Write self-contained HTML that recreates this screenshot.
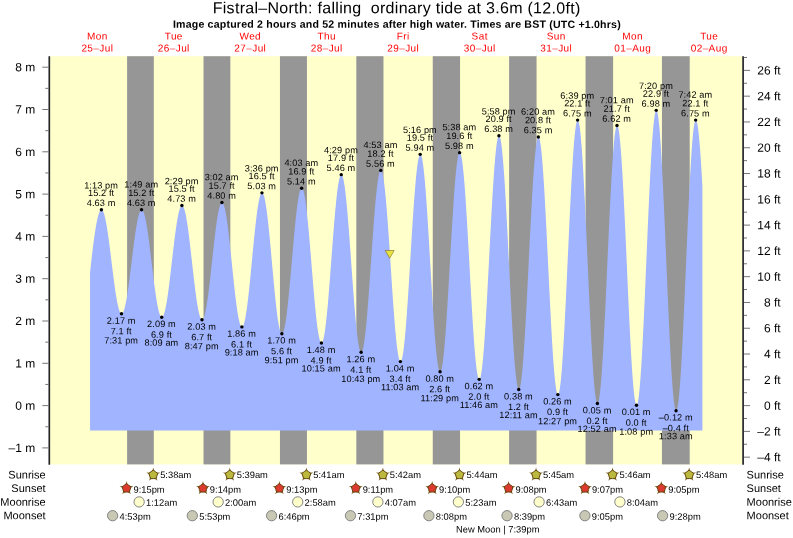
<!DOCTYPE html>
<html lang="en"><head><meta charset="utf-8"><title>Fistral-North tide times</title>
<style>html,body{margin:0;padding:0;background:#fff;overflow:hidden}svg{display:block}text{font-family:"Liberation Sans",sans-serif;fill:#000}
.ttl{font-size:16px;letter-spacing:0.29px}
.sub{font-size:10.6px;font-weight:bold;letter-spacing:0.19px}
.day{font-size:10px;fill:#ff0000;letter-spacing:0.4px}
.ax{font-size:12px;letter-spacing:0px}
.lb{font-size:9.2px;letter-spacing:0.1px}
.ev{font-size:9.35px;letter-spacing:0px}
.row{font-size:11px;letter-spacing:0px}
</style></head><body>
<svg width="793" height="538" viewBox="0 0 793 538">
<rect x="0" y="0" width="793" height="538" fill="#ffffff"/>
<rect x="50.1" y="56.2" width="691.9" height="408.2" fill="#ffffcc"/>
<rect x="127.10" y="56.2" width="26.71" height="408.2" fill="#969696"/>
<rect x="203.52" y="56.2" width="26.82" height="408.2" fill="#969696"/>
<rect x="279.95" y="56.2" width="26.98" height="408.2" fill="#969696"/>
<rect x="356.32" y="56.2" width="27.14" height="408.2" fill="#969696"/>
<rect x="432.75" y="56.2" width="27.30" height="408.2" fill="#969696"/>
<rect x="509.12" y="56.2" width="27.46" height="408.2" fill="#969696"/>
<rect x="585.55" y="56.2" width="27.56" height="408.2" fill="#969696"/>
<rect x="661.93" y="56.2" width="27.78" height="408.2" fill="#969696"/>
<path d="M90.05 430.50 L90.05 272.48 L90.30 270.19 L90.55 267.92 L90.80 265.67 L91.05 263.43 L91.30 261.22 L91.55 259.03 L91.80 256.87 L92.05 254.74 L92.30 252.63 L92.55 250.56 L92.80 248.52 L93.05 246.52 L93.30 244.55 L93.55 242.62 L93.80 240.73 L94.05 238.89 L94.30 237.08 L94.55 235.33 L94.80 233.62 L95.05 231.96 L95.30 230.35 L95.55 228.79 L95.80 227.28 L96.05 225.83 L96.30 224.44 L96.55 223.10 L96.80 221.82 L97.05 220.60 L97.30 219.44 L97.55 218.34 L97.80 217.30 L98.05 216.33 L98.30 215.42 L98.55 214.58 L98.80 213.80 L99.05 213.09 L99.30 212.44 L99.55 211.87 L99.80 211.36 L100.05 210.92 L100.30 210.55 L100.55 210.25 L100.80 210.02 L101.05 209.86 L101.30 209.77 L101.55 209.75 L101.80 209.81 L102.05 209.95 L102.30 210.16 L102.55 210.46 L102.80 210.83 L103.05 211.28 L103.30 211.81 L103.55 212.42 L103.80 213.10 L104.05 213.86 L104.30 214.68 L104.55 215.59 L104.80 216.56 L105.05 217.60 L105.30 218.71 L105.55 219.88 L105.80 221.12 L106.05 222.42 L106.30 223.78 L106.55 225.20 L106.80 226.68 L107.05 228.21 L107.30 229.79 L107.55 231.42 L107.80 233.09 L108.05 234.81 L108.30 236.57 L108.55 238.37 L108.80 240.21 L109.05 242.08 L109.30 243.98 L109.55 245.90 L109.80 247.85 L110.05 249.82 L110.30 251.81 L110.55 253.82 L110.80 255.84 L111.05 257.86 L111.30 259.89 L111.55 261.93 L111.80 263.96 L112.05 266.00 L112.30 268.02 L112.55 270.04 L112.80 272.04 L113.05 274.03 L113.30 276.00 L113.55 277.94 L113.80 279.87 L114.05 281.76 L114.30 283.62 L114.55 285.45 L114.80 287.25 L115.05 289.00 L115.30 290.72 L115.55 292.39 L115.80 294.01 L116.05 295.58 L116.30 297.10 L116.55 298.57 L116.80 299.98 L117.05 301.33 L117.30 302.63 L117.55 303.86 L117.80 305.02 L118.05 306.12 L118.30 307.15 L118.55 308.11 L118.80 309.00 L119.05 309.82 L119.30 310.57 L119.55 311.24 L119.80 311.83 L120.05 312.35 L120.30 312.79 L120.55 313.15 L120.81 313.43 L121.06 313.64 L121.31 313.76 L121.56 313.81 L121.81 313.77 L122.06 313.66 L122.31 313.47 L122.56 313.20 L122.81 312.84 L123.06 312.42 L123.31 311.91 L123.56 311.33 L123.81 310.67 L124.06 309.93 L124.31 309.12 L124.56 308.24 L124.81 307.29 L125.06 306.27 L125.31 305.18 L125.56 304.03 L125.81 302.81 L126.06 301.52 L126.31 300.18 L126.56 298.78 L126.81 297.32 L127.06 295.80 L127.31 294.24 L127.56 292.62 L127.81 290.96 L128.06 289.25 L128.31 287.50 L128.56 285.72 L128.81 283.89 L129.06 282.03 L129.31 280.14 L129.56 278.22 L129.81 276.28 L130.06 274.31 L130.31 272.33 L130.56 270.33 L130.81 268.31 L131.06 266.29 L131.31 264.26 L131.56 262.22 L131.81 260.19 L132.06 258.15 L132.31 256.13 L132.56 254.11 L132.81 252.10 L133.06 250.11 L133.31 248.13 L133.56 246.18 L133.81 244.25 L134.06 242.35 L134.31 240.47 L134.56 238.63 L134.81 236.83 L135.06 235.06 L135.31 233.34 L135.56 231.65 L135.81 230.02 L136.06 228.43 L136.31 226.89 L136.56 225.41 L136.81 223.98 L137.06 222.61 L137.31 221.30 L137.56 220.06 L137.81 218.87 L138.06 217.75 L138.31 216.70 L138.56 215.72 L138.81 214.81 L139.06 213.97 L139.31 213.20 L139.56 212.51 L139.81 211.90 L140.06 211.36 L140.31 210.89 L140.56 210.51 L140.81 210.20 L141.06 209.97 L141.31 209.82 L141.56 209.76 L141.81 209.77 L142.06 209.86 L142.31 210.03 L142.56 210.29 L142.81 210.62 L143.06 211.04 L143.31 211.53 L143.56 212.11 L143.81 212.76 L144.06 213.49 L144.31 214.29 L144.56 215.17 L144.81 216.12 L145.06 217.14 L145.31 218.24 L145.56 219.40 L145.81 220.63 L146.06 221.92 L146.31 223.28 L146.56 224.69 L146.81 226.17 L147.06 227.70 L147.31 229.29 L147.56 230.93 L147.81 232.61 L148.06 234.35 L148.31 236.13 L148.56 237.95 L148.81 239.81 L149.06 241.70 L149.31 243.63 L149.56 245.59 L149.81 247.57 L150.06 249.58 L150.31 251.61 L150.56 253.66 L150.81 255.72 L151.06 257.79 L151.31 259.88 L151.56 261.97 L151.81 264.06 L152.06 266.15 L152.31 268.23 L152.56 270.31 L152.81 272.38 L153.06 274.43 L153.31 276.47 L153.56 278.49 L153.81 280.49 L154.06 282.46 L154.31 284.40 L154.56 286.31 L154.81 288.18 L155.06 290.02 L155.31 291.82 L155.56 293.57 L155.81 295.28 L156.06 296.94 L156.31 298.55 L156.56 300.11 L156.81 301.61 L157.06 303.05 L157.31 304.43 L157.56 305.76 L157.81 307.01 L158.06 308.20 L158.31 309.33 L158.56 310.38 L158.81 311.37 L159.06 312.28 L159.31 313.11 L159.56 313.87 L159.81 314.56 L160.06 315.17 L160.31 315.70 L160.56 316.15 L160.81 316.52 L161.06 316.81 L161.31 317.02 L161.56 317.15 L161.81 317.19 L162.06 317.16 L162.31 317.04 L162.56 316.83 L162.81 316.54 L163.06 316.17 L163.31 315.72 L163.56 315.18 L163.81 314.56 L164.06 313.86 L164.31 313.08 L164.56 312.22 L164.81 311.29 L165.06 310.28 L165.31 309.19 L165.56 308.04 L165.81 306.81 L166.06 305.51 L166.31 304.15 L166.56 302.72 L166.81 301.23 L167.06 299.68 L167.31 298.07 L167.56 296.41 L167.81 294.69 L168.06 292.92 L168.31 291.11 L168.56 289.24 L168.81 287.34 L169.06 285.40 L169.31 283.42 L169.56 281.41 L169.81 279.36 L170.06 277.29 L170.31 275.20 L170.56 273.08 L170.81 270.95 L171.06 268.80 L171.31 266.64 L171.56 264.48 L171.81 262.31 L172.06 260.13 L172.31 257.96 L172.56 255.79 L172.81 253.64 L173.06 251.49 L173.31 249.36 L173.56 247.25 L173.81 245.16 L174.06 243.09 L174.31 241.05 L174.56 239.04 L174.81 237.07 L175.06 235.13 L175.31 233.23 L175.56 231.37 L175.81 229.56 L176.06 227.80 L176.31 226.09 L176.56 224.43 L176.81 222.83 L177.06 221.29 L177.31 219.81 L177.56 218.39 L177.81 217.03 L178.06 215.74 L178.31 214.52 L178.56 213.38 L178.81 212.30 L179.06 211.30 L179.31 210.38 L179.56 209.53 L179.81 208.76 L180.06 208.07 L180.31 207.46 L180.56 206.93 L180.81 206.49 L181.06 206.13 L181.31 205.85 L181.56 205.66 L181.81 205.55 L182.07 205.52 L182.32 205.58 L182.57 205.73 L182.82 205.97 L183.07 206.29 L183.32 206.70 L183.57 207.20 L183.82 207.78 L184.07 208.44 L184.32 209.19 L184.57 210.01 L184.82 210.92 L185.07 211.91 L185.32 212.98 L185.57 214.12 L185.82 215.33 L186.07 216.62 L186.32 217.98 L186.57 219.41 L186.82 220.90 L187.07 222.46 L187.32 224.08 L187.57 225.75 L187.82 227.49 L188.07 229.28 L188.32 231.11 L188.57 233.00 L188.82 234.93 L189.07 236.91 L189.32 238.92 L189.57 240.97 L189.82 243.06 L190.07 245.17 L190.32 247.31 L190.57 249.47 L190.82 251.66 L191.07 253.86 L191.32 256.07 L191.57 258.30 L191.82 260.53 L192.07 262.76 L192.32 264.99 L192.57 267.22 L192.82 269.45 L193.07 271.66 L193.32 273.86 L193.57 276.04 L193.82 278.20 L194.07 280.34 L194.32 282.45 L194.57 284.53 L194.82 286.57 L195.07 288.58 L195.32 290.55 L195.57 292.48 L195.82 294.36 L196.07 296.20 L196.32 297.98 L196.57 299.70 L196.82 301.37 L197.07 302.99 L197.32 304.54 L197.57 306.02 L197.82 307.44 L198.07 308.79 L198.32 310.07 L198.57 311.28 L198.82 312.41 L199.07 313.46 L199.32 314.44 L199.57 315.34 L199.82 316.16 L200.07 316.90 L200.32 317.55 L200.57 318.12 L200.82 318.60 L201.07 319.00 L201.32 319.32 L201.57 319.54 L201.82 319.68 L202.07 319.73 L202.32 319.69 L202.57 319.56 L202.82 319.34 L203.07 319.03 L203.32 318.63 L203.57 318.14 L203.82 317.57 L204.07 316.90 L204.32 316.15 L204.57 315.31 L204.82 314.39 L205.07 313.38 L205.32 312.29 L205.57 311.13 L205.82 309.88 L206.07 308.56 L206.32 307.17 L206.57 305.70 L206.82 304.17 L207.07 302.57 L207.32 300.90 L207.57 299.18 L207.82 297.39 L208.07 295.55 L208.32 293.65 L208.57 291.70 L208.82 289.71 L209.07 287.67 L209.32 285.59 L209.57 283.47 L209.82 281.32 L210.07 279.13 L210.32 276.92 L210.57 274.68 L210.82 272.42 L211.07 270.15 L211.32 267.86 L211.57 265.56 L211.82 263.25 L212.07 260.94 L212.32 258.63 L212.57 256.33 L212.82 254.03 L213.07 251.74 L213.32 249.47 L213.57 247.21 L213.82 244.98 L214.07 242.77 L214.32 240.59 L214.57 238.45 L214.82 236.33 L215.07 234.26 L215.32 232.23 L215.57 230.24 L215.82 228.30 L216.07 226.42 L216.32 224.58 L216.57 222.81 L216.82 221.09 L217.07 219.43 L217.32 217.85 L217.57 216.32 L217.82 214.87 L218.07 213.49 L218.32 212.18 L218.57 210.95 L218.82 209.80 L219.07 208.73 L219.32 207.74 L219.57 206.83 L219.82 206.01 L220.07 205.27 L220.32 204.62 L220.57 204.05 L220.82 203.58 L221.07 203.20 L221.32 202.90 L221.57 202.70 L221.82 202.58 L222.07 202.56 L222.32 202.64 L222.57 202.81 L222.82 203.07 L223.07 203.43 L223.32 203.89 L223.57 204.44 L223.82 205.08 L224.07 205.81 L224.32 206.64 L224.57 207.56 L224.82 208.56 L225.07 209.65 L225.32 210.83 L225.57 212.09 L225.82 213.43 L226.07 214.85 L226.32 216.35 L226.57 217.92 L226.82 219.57 L227.07 221.29 L227.32 223.07 L227.57 224.91 L227.82 226.82 L228.07 228.79 L228.32 230.81 L228.57 232.89 L228.82 235.01 L229.07 237.19 L229.32 239.40 L229.57 241.65 L229.82 243.94 L230.07 246.26 L230.32 248.61 L230.57 250.98 L230.82 253.38 L231.07 255.79 L231.32 258.22 L231.57 260.66 L231.82 263.10 L232.07 265.54 L232.32 267.99 L232.57 270.43 L232.82 272.86 L233.07 275.28 L233.32 277.68 L233.57 280.06 L233.82 282.42 L234.07 284.75 L234.32 287.05 L234.57 289.31 L234.82 291.54 L235.07 293.73 L235.32 295.87 L235.57 297.96 L235.82 300.00 L236.07 301.99 L236.32 303.92 L236.57 305.79 L236.82 307.59 L237.07 309.33 L237.32 311.00 L237.57 312.60 L237.82 314.12 L238.07 315.57 L238.32 316.94 L238.57 318.23 L238.82 319.43 L239.07 320.56 L239.32 321.59 L239.57 322.54 L239.82 323.39 L240.07 324.16 L240.32 324.84 L240.57 325.42 L240.82 325.90 L241.07 326.30 L241.32 326.60 L241.57 326.80 L241.82 326.90 L242.07 326.91 L242.32 326.82 L242.57 326.63 L242.82 326.33 L243.07 325.93 L243.33 325.43 L243.58 324.83 L243.83 324.13 L244.08 323.34 L244.33 322.44 L244.58 321.45 L244.83 320.37 L245.08 319.19 L245.33 317.92 L245.58 316.57 L245.83 315.12 L246.08 313.59 L246.33 311.98 L246.58 310.29 L246.83 308.52 L247.08 306.68 L247.33 304.77 L247.58 302.79 L247.83 300.74 L248.08 298.63 L248.33 296.46 L248.58 294.23 L248.83 291.95 L249.08 289.63 L249.33 287.25 L249.58 284.84 L249.83 282.39 L250.08 279.90 L250.33 277.38 L250.58 274.83 L250.83 272.27 L251.08 269.68 L251.33 267.08 L251.58 264.46 L251.83 261.84 L252.08 259.22 L252.33 256.60 L252.58 253.98 L252.83 251.37 L253.08 248.78 L253.33 246.20 L253.58 243.64 L253.83 241.11 L254.08 238.61 L254.33 236.14 L254.58 233.70 L254.83 231.31 L255.08 228.96 L255.33 226.65 L255.58 224.40 L255.83 222.20 L256.08 220.06 L256.33 217.98 L256.58 215.97 L256.83 214.02 L257.08 212.14 L257.33 210.34 L257.58 208.61 L257.83 206.96 L258.08 205.39 L258.33 203.90 L258.58 202.50 L258.83 201.19 L259.08 199.96 L259.33 198.83 L259.58 197.79 L259.83 196.85 L260.08 196.01 L260.33 195.26 L260.58 194.61 L260.83 194.06 L261.08 193.61 L261.33 193.26 L261.58 193.02 L261.83 192.87 L262.08 192.83 L262.33 192.90 L262.58 193.07 L262.83 193.36 L263.08 193.75 L263.33 194.25 L263.58 194.86 L263.83 195.58 L264.08 196.40 L264.33 197.32 L264.58 198.35 L264.83 199.48 L265.08 200.71 L265.33 202.03 L265.58 203.45 L265.83 204.96 L266.08 206.57 L266.33 208.26 L266.58 210.04 L266.83 211.90 L267.08 213.84 L267.33 215.85 L267.58 217.94 L267.83 220.10 L268.08 222.33 L268.33 224.62 L268.58 226.98 L268.83 229.38 L269.08 231.85 L269.33 234.36 L269.58 236.91 L269.83 239.51 L270.08 242.14 L270.33 244.80 L270.58 247.50 L270.83 250.22 L271.08 252.96 L271.33 255.71 L271.58 258.48 L271.83 261.25 L272.08 264.03 L272.33 266.81 L272.58 269.58 L272.83 272.34 L273.08 275.09 L273.33 277.81 L273.58 280.52 L273.83 283.20 L274.08 285.85 L274.33 288.46 L274.58 291.03 L274.83 293.56 L275.08 296.05 L275.33 298.48 L275.58 300.86 L275.83 303.18 L276.08 305.43 L276.33 307.62 L276.58 309.75 L276.83 311.80 L277.08 313.77 L277.33 315.67 L277.58 317.48 L277.83 319.21 L278.08 320.86 L278.33 322.41 L278.58 323.87 L278.83 325.24 L279.08 326.51 L279.33 327.68 L279.58 328.75 L279.83 329.72 L280.08 330.59 L280.33 331.35 L280.58 332.01 L280.83 332.56 L281.08 333.00 L281.33 333.33 L281.58 333.56 L281.83 333.67 L282.08 333.68 L282.33 333.57 L282.58 333.34 L282.83 333.01 L283.08 332.55 L283.33 331.99 L283.58 331.31 L283.83 330.52 L284.08 329.62 L284.33 328.61 L284.58 327.50 L284.83 326.28 L285.08 324.96 L285.33 323.53 L285.58 322.01 L285.83 320.39 L286.08 318.67 L286.33 316.87 L286.58 314.98 L286.83 313.00 L287.08 310.94 L287.33 308.80 L287.58 306.58 L287.83 304.29 L288.08 301.94 L288.33 299.51 L288.58 297.03 L288.83 294.49 L289.08 291.90 L289.33 289.26 L289.58 286.57 L289.83 283.85 L290.08 281.08 L290.33 278.29 L290.58 275.47 L290.83 272.62 L291.08 269.76 L291.33 266.88 L291.58 263.99 L291.83 261.10 L292.08 258.21 L292.33 255.32 L292.58 252.44 L292.83 249.58 L293.08 246.73 L293.33 243.90 L293.58 241.11 L293.83 238.34 L294.08 235.61 L294.33 232.92 L294.58 230.27 L294.83 227.67 L295.08 225.13 L295.33 222.64 L295.58 220.21 L295.83 217.84 L296.08 215.55 L296.33 213.32 L296.58 211.17 L296.83 209.10 L297.08 207.12 L297.33 205.21 L297.58 203.40 L297.83 201.67 L298.08 200.04 L298.33 198.51 L298.58 197.07 L298.83 195.74 L299.08 194.50 L299.33 193.38 L299.58 192.36 L299.83 191.44 L300.08 190.64 L300.33 189.95 L300.58 189.37 L300.83 188.91 L301.08 188.56 L301.33 188.32 L301.58 188.20 L301.83 188.19 L302.08 188.30 L302.33 188.54 L302.58 188.90 L302.83 189.38 L303.08 189.98 L303.33 190.70 L303.58 191.53 L303.83 192.49 L304.08 193.56 L304.33 194.74 L304.59 196.04 L304.84 197.45 L305.09 198.96 L305.34 200.58 L305.59 202.30 L305.84 204.12 L306.09 206.04 L306.34 208.05 L306.59 210.16 L306.84 212.35 L307.09 214.63 L307.34 216.98 L307.59 219.42 L307.84 221.92 L308.09 224.50 L308.34 227.14 L308.59 229.84 L308.84 232.60 L309.09 235.40 L309.34 238.26 L309.59 241.16 L309.84 244.10 L310.09 247.07 L310.34 250.08 L310.59 253.10 L310.84 256.15 L311.09 259.21 L311.34 262.28 L311.59 265.36 L311.84 268.44 L312.09 271.51 L312.34 274.57 L312.59 277.62 L312.84 280.65 L313.09 283.66 L313.34 286.63 L313.59 289.58 L313.84 292.49 L314.09 295.35 L314.34 298.17 L314.59 300.93 L314.84 303.64 L315.09 306.29 L315.34 308.88 L315.59 311.39 L315.84 313.84 L316.09 316.20 L316.34 318.49 L316.59 320.70 L316.84 322.81 L317.09 324.84 L317.34 326.77 L317.59 328.61 L317.84 330.35 L318.09 331.98 L318.34 333.51 L318.59 334.93 L318.84 336.25 L319.09 337.45 L319.34 338.53 L319.59 339.51 L319.84 340.36 L320.09 341.10 L320.34 341.71 L320.59 342.21 L320.84 342.59 L321.09 342.84 L321.34 342.98 L321.59 342.98 L321.84 342.86 L322.09 342.61 L322.34 342.23 L322.59 341.71 L322.84 341.07 L323.09 340.30 L323.34 339.40 L323.59 338.37 L323.84 337.23 L324.09 335.95 L324.34 334.56 L324.59 333.05 L324.84 331.42 L325.09 329.68 L325.34 327.83 L325.59 325.87 L325.84 323.80 L326.09 321.64 L326.34 319.37 L326.59 317.01 L326.84 314.56 L327.09 312.03 L327.34 309.41 L327.59 306.71 L327.84 303.93 L328.09 301.09 L328.34 298.18 L328.59 295.20 L328.84 292.17 L329.09 289.09 L329.34 285.96 L329.59 282.79 L329.84 279.58 L330.09 276.34 L330.34 273.07 L330.59 269.78 L330.84 266.47 L331.09 263.15 L331.34 259.83 L331.59 256.50 L331.84 253.17 L332.09 249.86 L332.34 246.56 L332.59 243.27 L332.84 240.01 L333.09 236.78 L333.34 233.59 L333.59 230.43 L333.84 227.32 L334.09 224.26 L334.34 221.25 L334.59 218.31 L334.84 215.42 L335.09 212.60 L335.34 209.86 L335.59 207.19 L335.84 204.60 L336.09 202.10 L336.34 199.68 L336.59 197.36 L336.84 195.13 L337.09 193.01 L337.34 190.98 L337.59 189.07 L337.84 187.26 L338.09 185.56 L338.34 183.98 L338.59 182.51 L338.84 181.17 L339.09 179.94 L339.34 178.84 L339.59 177.87 L339.84 177.02 L340.09 176.30 L340.34 175.71 L340.59 175.24 L340.84 174.91 L341.09 174.71 L341.34 174.64 L341.59 174.71 L341.84 174.91 L342.09 175.26 L342.34 175.74 L342.59 176.36 L342.84 177.11 L343.09 178.00 L343.34 179.02 L343.59 180.18 L343.84 181.47 L344.09 182.88 L344.34 184.42 L344.59 186.08 L344.84 187.87 L345.09 189.77 L345.34 191.79 L345.59 193.92 L345.84 196.16 L346.09 198.50 L346.34 200.95 L346.59 203.49 L346.84 206.13 L347.09 208.86 L347.34 211.67 L347.59 214.56 L347.84 217.53 L348.09 220.57 L348.34 223.68 L348.59 226.85 L348.84 230.08 L349.09 233.36 L349.34 236.69 L349.59 240.06 L349.84 243.47 L350.09 246.90 L350.34 250.37 L350.59 253.85 L350.84 257.35 L351.09 260.86 L351.34 264.37 L351.59 267.88 L351.84 271.39 L352.09 274.88 L352.34 278.35 L352.59 281.80 L352.84 285.22 L353.09 288.61 L353.34 291.96 L353.59 295.27 L353.84 298.52 L354.09 301.72 L354.34 304.86 L354.59 307.93 L354.84 310.94 L355.09 313.87 L355.34 316.72 L355.59 319.49 L355.84 322.18 L356.09 324.77 L356.34 327.26 L356.59 329.65 L356.84 331.94 L357.09 334.13 L357.34 336.20 L357.59 338.16 L357.84 340.00 L358.09 341.73 L358.34 343.33 L358.59 344.80 L358.84 346.15 L359.09 347.37 L359.34 348.46 L359.59 349.41 L359.84 350.24 L360.09 350.92 L360.34 351.47 L360.59 351.88 L360.84 352.15 L361.09 352.29 L361.34 352.28 L361.59 352.13 L361.84 351.84 L362.09 351.40 L362.34 350.81 L362.59 350.08 L362.84 349.22 L363.09 348.21 L363.34 347.06 L363.59 345.78 L363.84 344.36 L364.09 342.80 L364.34 341.12 L364.59 339.31 L364.84 337.38 L365.09 335.32 L365.34 333.15 L365.59 330.86 L365.85 328.46 L366.10 325.95 L366.35 323.34 L366.60 320.63 L366.85 317.83 L367.10 314.94 L367.35 311.96 L367.60 308.90 L367.85 305.76 L368.10 302.55 L368.35 299.28 L368.60 295.95 L368.85 292.56 L369.10 289.12 L369.35 285.64 L369.60 282.11 L369.85 278.56 L370.10 274.98 L370.35 271.37 L370.60 267.75 L370.85 264.12 L371.10 260.49 L371.35 256.85 L371.60 253.23 L371.85 249.61 L372.10 246.02 L372.35 242.45 L372.60 238.91 L372.85 235.40 L373.10 231.94 L373.35 228.53 L373.60 225.16 L373.85 221.86 L374.10 218.62 L374.35 215.44 L374.60 212.34 L374.85 209.32 L375.10 206.38 L375.35 203.53 L375.60 200.77 L375.85 198.11 L376.10 195.55 L376.35 193.09 L376.60 190.74 L376.85 188.51 L377.10 186.39 L377.35 184.39 L377.60 182.52 L377.85 180.77 L378.10 179.15 L378.35 177.66 L378.60 176.31 L378.85 175.09 L379.10 174.01 L379.35 173.06 L379.60 172.26 L379.85 171.60 L380.10 171.09 L380.35 170.72 L380.60 170.49 L380.85 170.41 L381.10 170.48 L381.35 170.70 L381.60 171.07 L381.85 171.60 L382.10 172.27 L382.35 173.10 L382.60 174.07 L382.85 175.19 L383.10 176.46 L383.35 177.87 L383.60 179.41 L383.85 181.10 L384.10 182.93 L384.35 184.88 L384.60 186.97 L384.85 189.18 L385.10 191.51 L385.35 193.97 L385.60 196.54 L385.85 199.22 L386.10 202.00 L386.35 204.89 L386.60 207.88 L386.85 210.96 L387.10 214.12 L387.35 217.37 L387.60 220.70 L387.85 224.10 L388.10 227.57 L388.35 231.10 L388.60 234.68 L388.85 238.32 L389.10 242.00 L389.35 245.71 L389.60 249.46 L389.85 253.24 L390.10 257.04 L390.35 260.85 L390.60 264.66 L390.85 268.49 L391.10 272.30 L391.35 276.11 L391.60 279.90 L391.85 283.67 L392.10 287.41 L392.35 291.12 L392.60 294.78 L392.85 298.40 L393.10 301.97 L393.35 305.48 L393.60 308.93 L393.85 312.31 L394.10 315.62 L394.35 318.84 L394.60 321.98 L394.85 325.04 L395.10 327.99 L395.35 330.85 L395.60 333.61 L395.85 336.26 L396.10 338.79 L396.35 341.21 L396.60 343.51 L396.85 345.68 L397.10 347.73 L397.35 349.65 L397.60 351.43 L397.85 353.08 L398.10 354.59 L398.35 355.95 L398.60 357.18 L398.85 358.25 L399.10 359.18 L399.35 359.96 L399.60 360.59 L399.85 361.07 L400.10 361.40 L400.35 361.58 L400.60 361.60 L400.85 361.46 L401.10 361.16 L401.35 360.69 L401.60 360.07 L401.85 359.28 L402.10 358.34 L402.35 357.24 L402.60 355.98 L402.85 354.56 L403.10 353.00 L403.35 351.28 L403.60 349.42 L403.85 347.42 L404.10 345.27 L404.35 342.99 L404.60 340.58 L404.85 338.03 L405.10 335.36 L405.35 332.56 L405.60 329.65 L405.85 326.63 L406.10 323.50 L406.35 320.26 L406.60 316.93 L406.85 313.51 L407.10 309.99 L407.35 306.40 L407.60 302.73 L407.85 298.99 L408.10 295.19 L408.35 291.32 L408.60 287.41 L408.85 283.44 L409.10 279.44 L409.35 275.40 L409.60 271.34 L409.85 267.26 L410.10 263.16 L410.35 259.05 L410.60 254.94 L410.85 250.84 L411.10 246.74 L411.35 242.67 L411.60 238.62 L411.85 234.60 L412.10 230.61 L412.35 226.67 L412.60 222.78 L412.85 218.94 L413.10 215.17 L413.35 211.46 L413.60 207.83 L413.85 204.27 L414.10 200.80 L414.35 197.42 L414.60 194.13 L414.85 190.95 L415.10 187.86 L415.35 184.89 L415.60 182.04 L415.85 179.30 L416.10 176.69 L416.35 174.21 L416.60 171.85 L416.85 169.63 L417.10 167.56 L417.35 165.62 L417.60 163.83 L417.85 162.18 L418.10 160.69 L418.35 159.35 L418.60 158.17 L418.85 157.14 L419.10 156.27 L419.35 155.56 L419.60 155.01 L419.85 154.62 L420.10 154.40 L420.35 154.34 L420.60 154.45 L420.85 154.72 L421.10 155.17 L421.35 155.79 L421.60 156.57 L421.85 157.53 L422.10 158.65 L422.35 159.93 L422.60 161.37 L422.85 162.98 L423.10 164.74 L423.35 166.66 L423.60 168.73 L423.85 170.94 L424.10 173.31 L424.35 175.81 L424.60 178.45 L424.85 181.22 L425.10 184.12 L425.35 187.15 L425.60 190.29 L425.85 193.55 L426.10 196.92 L426.35 200.39 L426.60 203.96 L426.86 207.63 L427.11 211.38 L427.36 215.21 L427.61 219.12 L427.86 223.10 L428.11 227.13 L428.36 231.23 L428.61 235.38 L428.86 239.57 L429.11 243.79 L429.36 248.05 L429.61 252.33 L429.86 256.63 L430.11 260.93 L430.36 265.24 L430.61 269.55 L430.86 273.85 L431.11 278.13 L431.36 282.38 L431.61 286.61 L431.86 290.80 L432.11 294.94 L432.36 299.04 L432.61 303.07 L432.86 307.05 L433.11 310.96 L433.36 314.79 L433.61 318.54 L433.86 322.20 L434.11 325.77 L434.36 329.24 L434.61 332.60 L434.86 335.86 L435.11 339.00 L435.36 342.03 L435.61 344.93 L435.86 347.70 L436.11 350.34 L436.36 352.84 L436.61 355.19 L436.86 357.41 L437.11 359.47 L437.36 361.39 L437.61 363.15 L437.86 364.75 L438.11 366.19 L438.36 367.47 L438.61 368.59 L438.86 369.54 L439.11 370.32 L439.36 370.94 L439.61 371.38 L439.86 371.66 L440.11 371.76 L440.36 371.69 L440.61 371.44 L440.86 371.02 L441.11 370.43 L441.36 369.66 L441.61 368.72 L441.86 367.60 L442.11 366.32 L442.36 364.87 L442.61 363.26 L442.86 361.48 L443.11 359.54 L443.36 357.45 L443.61 355.20 L443.86 352.81 L444.11 350.27 L444.36 347.59 L444.61 344.77 L444.86 341.82 L445.11 338.74 L445.36 335.53 L445.61 332.21 L445.86 328.78 L446.11 325.24 L446.36 321.60 L446.61 317.86 L446.86 314.04 L447.11 310.13 L447.36 306.14 L447.61 302.08 L447.86 297.96 L448.11 293.78 L448.36 289.55 L448.61 285.28 L448.86 280.97 L449.11 276.63 L449.36 272.27 L449.61 267.89 L449.86 263.50 L450.11 259.11 L450.36 254.72 L450.61 250.35 L450.86 245.99 L451.11 241.66 L451.36 237.37 L451.61 233.11 L451.86 228.90 L452.11 224.75 L452.36 220.65 L452.61 216.62 L452.86 212.67 L453.11 208.79 L453.36 205.00 L453.61 201.30 L453.86 197.70 L454.11 194.21 L454.36 190.82 L454.61 187.55 L454.86 184.39 L455.11 181.37 L455.36 178.47 L455.61 175.70 L455.86 173.08 L456.11 170.60 L456.36 168.26 L456.61 166.08 L456.86 164.05 L457.11 162.18 L457.36 160.47 L457.61 158.92 L457.86 157.54 L458.11 156.33 L458.36 155.28 L458.61 154.41 L458.86 153.71 L459.11 153.19 L459.36 152.84 L459.61 152.67 L459.86 152.67 L460.11 152.86 L460.36 153.22 L460.61 153.78 L460.86 154.51 L461.11 155.42 L461.36 156.51 L461.61 157.78 L461.86 159.22 L462.11 160.84 L462.36 162.62 L462.61 164.57 L462.86 166.69 L463.11 168.96 L463.36 171.40 L463.61 173.98 L463.86 176.72 L464.11 179.59 L464.36 182.61 L464.61 185.76 L464.86 189.05 L465.11 192.45 L465.36 195.98 L465.61 199.62 L465.86 203.36 L466.11 207.21 L466.36 211.15 L466.61 215.18 L466.86 219.29 L467.11 223.48 L467.36 227.74 L467.61 232.06 L467.86 236.43 L468.11 240.85 L468.36 245.31 L468.61 249.81 L468.86 254.33 L469.11 258.87 L469.36 263.42 L469.61 267.98 L469.86 272.53 L470.11 277.07 L470.36 281.60 L470.61 286.10 L470.86 290.56 L471.11 294.99 L471.36 299.37 L471.61 303.70 L471.86 307.96 L472.11 312.16 L472.36 316.28 L472.61 320.32 L472.86 324.28 L473.11 328.14 L473.36 331.90 L473.61 335.55 L473.86 339.09 L474.11 342.52 L474.36 345.82 L474.61 348.99 L474.86 352.02 L475.11 354.92 L475.36 357.67 L475.61 360.28 L475.86 362.73 L476.11 365.03 L476.36 367.17 L476.61 369.14 L476.86 370.95 L477.11 372.59 L477.36 374.06 L477.61 375.35 L477.86 376.46 L478.11 377.40 L478.36 378.16 L478.61 378.73 L478.86 379.12 L479.11 379.34 L479.36 379.36 L479.61 379.20 L479.86 378.84 L480.11 378.30 L480.36 377.56 L480.61 376.63 L480.86 375.51 L481.11 374.21 L481.36 372.72 L481.61 371.06 L481.86 369.21 L482.11 367.18 L482.36 364.98 L482.61 362.62 L482.86 360.08 L483.11 357.39 L483.36 354.53 L483.61 351.53 L483.86 348.37 L484.11 345.07 L484.36 341.63 L484.61 338.06 L484.86 334.36 L485.11 330.55 L485.36 326.61 L485.61 322.57 L485.86 318.42 L486.11 314.18 L486.36 309.85 L486.61 305.43 L486.86 300.94 L487.11 296.38 L487.36 291.76 L487.61 287.09 L487.86 282.37 L488.12 277.61 L488.37 272.81 L488.62 268.00 L488.87 263.17 L489.12 258.32 L489.37 253.48 L489.62 248.64 L489.87 243.82 L490.12 239.02 L490.37 234.25 L490.62 229.52 L490.87 224.83 L491.12 220.19 L491.37 215.61 L491.62 211.09 L491.87 206.65 L492.12 202.30 L492.37 198.02 L492.62 193.85 L492.87 189.77 L493.12 185.80 L493.37 181.94 L493.62 178.21 L493.87 174.59 L494.12 171.11 L494.37 167.77 L494.62 164.57 L494.87 161.51 L495.12 158.61 L495.37 155.86 L495.62 153.28 L495.87 150.85 L496.12 148.60 L496.37 146.52 L496.62 144.62 L496.87 142.89 L497.12 141.34 L497.37 139.98 L497.62 138.81 L497.87 137.82 L498.12 137.02 L498.37 136.41 L498.62 135.99 L498.87 135.77 L499.12 135.74 L499.37 135.90 L499.62 136.27 L499.87 136.83 L500.12 137.59 L500.37 138.55 L500.62 139.70 L500.87 141.05 L501.12 142.59 L501.37 144.32 L501.62 146.23 L501.87 148.32 L502.12 150.60 L502.37 153.05 L502.62 155.67 L502.87 158.46 L503.12 161.42 L503.37 164.53 L503.62 167.80 L503.87 171.22 L504.12 174.78 L504.37 178.48 L504.62 182.31 L504.87 186.27 L505.12 190.35 L505.37 194.54 L505.62 198.84 L505.87 203.24 L506.12 207.73 L506.37 212.31 L506.62 216.97 L506.87 221.70 L507.12 226.49 L507.37 231.34 L507.62 236.24 L507.87 241.18 L508.12 246.16 L508.37 251.16 L508.62 256.18 L508.87 261.21 L509.12 266.24 L509.37 271.26 L509.62 276.27 L509.87 281.26 L510.12 286.23 L510.37 291.15 L510.62 296.03 L510.87 300.86 L511.12 305.62 L511.37 310.32 L511.62 314.95 L511.87 319.49 L512.12 323.94 L512.37 328.30 L512.62 332.55 L512.87 336.69 L513.12 340.72 L513.37 344.62 L513.62 348.40 L513.87 352.04 L514.12 355.54 L514.37 358.89 L514.62 362.09 L514.87 365.14 L515.12 368.02 L515.37 370.74 L515.62 373.29 L515.87 375.67 L516.12 377.86 L516.37 379.88 L516.62 381.71 L516.87 383.36 L517.12 384.81 L517.37 386.07 L517.62 387.14 L517.87 388.01 L518.12 388.69 L518.37 389.17 L518.62 389.45 L518.87 389.52 L519.12 389.40 L519.37 389.08 L519.62 388.55 L519.87 387.82 L520.12 386.89 L520.37 385.77 L520.62 384.44 L520.87 382.92 L521.12 381.21 L521.37 379.31 L521.62 377.23 L521.87 374.96 L522.12 372.51 L522.37 369.88 L522.62 367.09 L522.87 364.13 L523.12 361.00 L523.37 357.72 L523.62 354.29 L523.87 350.71 L524.12 346.99 L524.37 343.13 L524.62 339.15 L524.87 335.04 L525.12 330.82 L525.37 326.49 L525.62 322.06 L525.87 317.54 L526.12 312.93 L526.37 308.24 L526.62 303.47 L526.87 298.64 L527.12 293.76 L527.37 288.82 L527.62 283.85 L527.87 278.84 L528.12 273.81 L528.37 268.76 L528.62 263.70 L528.87 258.64 L529.12 253.59 L529.37 248.55 L529.62 243.53 L529.87 238.55 L530.12 233.61 L530.37 228.72 L530.62 223.88 L530.87 219.10 L531.12 214.40 L531.37 209.77 L531.62 205.23 L531.87 200.78 L532.12 196.44 L532.37 192.20 L532.62 188.07 L532.87 184.07 L533.12 180.19 L533.37 176.45 L533.62 172.84 L533.87 169.38 L534.12 166.08 L534.37 162.92 L534.62 159.93 L534.87 157.11 L535.12 154.45 L535.37 151.97 L535.62 149.67 L535.87 147.55 L536.12 145.62 L536.37 143.88 L536.62 142.33 L536.87 140.97 L537.12 139.81 L537.37 138.84 L537.62 138.08 L537.87 137.52 L538.12 137.16 L538.37 137.00 L538.62 137.05 L538.87 137.31 L539.12 137.77 L539.37 138.44 L539.62 139.32 L539.87 140.41 L540.12 141.70 L540.37 143.19 L540.62 144.87 L540.87 146.76 L541.12 148.84 L541.37 151.11 L541.62 153.56 L541.87 156.20 L542.12 159.01 L542.37 162.00 L542.62 165.16 L542.87 168.48 L543.12 171.96 L543.37 175.59 L543.62 179.37 L543.87 183.28 L544.12 187.34 L544.37 191.51 L544.62 195.81 L544.87 200.23 L545.12 204.75 L545.37 209.37 L545.62 214.08 L545.87 218.87 L546.12 223.74 L546.37 228.68 L546.62 233.68 L546.87 238.73 L547.12 243.83 L547.37 248.96 L547.62 254.12 L547.87 259.30 L548.12 264.48 L548.37 269.67 L548.62 274.86 L548.87 280.03 L549.12 285.17 L549.38 290.29 L549.63 295.36 L549.88 300.39 L550.13 305.36 L550.38 310.27 L550.63 315.10 L550.88 319.86 L551.13 324.52 L551.38 329.09 L551.63 333.56 L551.88 337.92 L552.13 342.16 L552.38 346.28 L552.63 350.26 L552.88 354.11 L553.13 357.82 L553.38 361.38 L553.63 364.78 L553.88 368.02 L554.13 371.09 L554.38 374.00 L554.63 376.72 L554.88 379.27 L555.13 381.63 L555.38 383.81 L555.63 385.79 L555.88 387.58 L556.13 389.17 L556.38 390.56 L556.63 391.75 L556.88 392.73 L557.13 393.51 L557.38 394.08 L557.63 394.44 L557.88 394.60 L558.13 394.54 L558.38 394.26 L558.63 393.77 L558.88 393.06 L559.13 392.14 L559.38 391.01 L559.63 389.66 L559.88 388.10 L560.13 386.34 L560.38 384.38 L560.63 382.21 L560.88 379.85 L561.13 377.29 L561.38 374.54 L561.63 371.61 L561.88 368.49 L562.13 365.21 L562.38 361.75 L562.63 358.12 L562.88 354.34 L563.13 350.40 L563.38 346.32 L563.63 342.09 L563.88 337.73 L564.13 333.25 L564.38 328.64 L564.63 323.92 L564.88 319.10 L565.13 314.18 L565.38 309.17 L565.63 304.07 L565.88 298.91 L566.13 293.68 L566.38 288.39 L566.63 283.05 L566.88 277.67 L567.13 272.25 L567.38 266.82 L567.63 261.37 L567.88 255.91 L568.13 250.46 L568.38 245.01 L568.63 239.59 L568.88 234.19 L569.13 228.83 L569.38 223.52 L569.63 218.26 L569.88 213.06 L570.13 207.93 L570.38 202.88 L570.63 197.91 L570.88 193.04 L571.13 188.27 L571.38 183.61 L571.63 179.07 L571.88 174.65 L572.13 170.36 L572.38 166.21 L572.63 162.20 L572.88 158.34 L573.13 154.64 L573.38 151.10 L573.63 147.73 L573.88 144.53 L574.13 141.51 L574.38 138.68 L574.63 136.03 L574.88 133.57 L575.13 131.31 L575.38 129.25 L575.63 127.39 L575.88 125.73 L576.13 124.29 L576.38 123.05 L576.63 122.03 L576.88 121.22 L577.13 120.62 L577.38 120.24 L577.63 120.08 L577.88 120.14 L578.13 120.42 L578.38 120.92 L578.63 121.64 L578.88 122.58 L579.13 123.75 L579.38 125.13 L579.63 126.72 L579.88 128.53 L580.13 130.54 L580.38 132.76 L580.63 135.19 L580.88 137.81 L581.13 140.63 L581.38 143.64 L581.63 146.83 L581.88 150.21 L582.13 153.76 L582.38 157.48 L582.63 161.37 L582.88 165.41 L583.13 169.60 L583.38 173.94 L583.63 178.42 L583.88 183.03 L584.13 187.76 L584.38 192.61 L584.63 197.56 L584.88 202.62 L585.13 207.77 L585.38 213.01 L585.63 218.32 L585.88 223.70 L586.13 229.14 L586.38 234.63 L586.63 240.17 L586.88 245.74 L587.13 251.33 L587.38 256.94 L587.63 262.56 L587.88 268.18 L588.13 273.78 L588.38 279.37 L588.63 284.93 L588.88 290.45 L589.13 295.93 L589.38 301.36 L589.63 306.72 L589.88 312.01 L590.13 317.23 L590.38 322.35 L590.63 327.38 L590.88 332.31 L591.13 337.13 L591.38 341.83 L591.63 346.40 L591.88 350.84 L592.13 355.14 L592.38 359.29 L592.63 363.29 L592.88 367.13 L593.13 370.80 L593.38 374.31 L593.63 377.63 L593.88 380.78 L594.13 383.73 L594.38 386.50 L594.63 389.07 L594.88 391.43 L595.13 393.60 L595.38 395.56 L595.63 397.30 L595.88 398.84 L596.13 400.16 L596.38 401.26 L596.63 402.14 L596.88 402.80 L597.13 403.24 L597.38 403.46 L597.63 403.45 L597.88 403.23 L598.13 402.77 L598.38 402.10 L598.63 401.21 L598.88 400.09 L599.13 398.76 L599.38 397.21 L599.63 395.45 L599.88 393.48 L600.13 391.30 L600.38 388.92 L600.63 386.34 L600.88 383.56 L601.13 380.60 L601.38 377.44 L601.63 374.10 L601.88 370.59 L602.13 366.91 L602.38 363.06 L602.63 359.06 L602.88 354.90 L603.13 350.60 L603.38 346.16 L603.63 341.59 L603.88 336.89 L604.13 332.08 L604.38 327.16 L604.63 322.14 L604.88 317.02 L605.13 311.83 L605.38 306.55 L605.63 301.21 L605.88 295.81 L606.13 290.36 L606.38 284.87 L606.63 279.35 L606.88 273.80 L607.13 268.23 L607.38 262.67 L607.63 257.10 L607.88 251.54 L608.13 246.01 L608.38 240.51 L608.63 235.04 L608.88 229.63 L609.13 224.26 L609.38 218.97 L609.63 213.74 L609.88 208.60 L610.13 203.55 L610.38 198.59 L610.64 193.75 L610.89 189.01 L611.14 184.40 L611.39 179.91 L611.64 175.56 L611.89 171.36 L612.14 167.30 L612.39 163.40 L612.64 159.66 L612.89 156.10 L613.14 152.70 L613.39 149.49 L613.64 146.46 L613.89 143.61 L614.14 140.97 L614.39 138.52 L614.64 136.27 L614.89 134.23 L615.14 132.40 L615.39 130.79 L615.64 129.38 L615.89 128.20 L616.14 127.23 L616.39 126.48 L616.64 125.96 L616.89 125.66 L617.14 125.58 L617.39 125.72 L617.64 126.10 L617.89 126.70 L618.14 127.52 L618.39 128.57 L618.64 129.84 L618.89 131.33 L619.14 133.04 L619.39 134.96 L619.64 137.10 L619.89 139.44 L620.14 141.99 L620.39 144.74 L620.64 147.68 L620.89 150.82 L621.14 154.14 L621.39 157.64 L621.64 161.32 L621.89 165.16 L622.14 169.17 L622.39 173.34 L622.64 177.65 L622.89 182.11 L623.14 186.70 L623.39 191.42 L623.64 196.26 L623.89 201.21 L624.14 206.27 L624.39 211.42 L624.64 216.66 L624.89 221.98 L625.14 227.37 L625.39 232.82 L625.64 238.32 L625.89 243.87 L626.14 249.45 L626.39 255.06 L626.64 260.69 L626.89 266.32 L627.14 271.95 L627.39 277.57 L627.64 283.18 L627.89 288.75 L628.14 294.28 L628.39 299.77 L628.64 305.20 L628.89 310.57 L629.14 315.86 L629.39 321.07 L629.64 326.19 L629.89 331.22 L630.14 336.13 L630.39 340.93 L630.64 345.61 L630.89 350.16 L631.14 354.57 L631.39 358.83 L631.64 362.94 L631.89 366.90 L632.14 370.69 L632.39 374.31 L632.64 377.75 L632.89 381.01 L633.14 384.08 L633.39 386.96 L633.64 389.64 L633.89 392.12 L634.14 394.39 L634.39 396.46 L634.64 398.31 L634.89 399.95 L635.14 401.36 L635.39 402.56 L635.64 403.53 L635.89 404.28 L636.14 404.81 L636.39 405.10 L636.64 405.17 L636.89 405.01 L637.14 404.62 L637.39 403.99 L637.64 403.14 L637.89 402.05 L638.14 400.73 L638.39 399.19 L638.64 397.43 L638.89 395.44 L639.14 393.24 L639.39 390.82 L639.64 388.20 L639.89 385.36 L640.14 382.33 L640.39 379.10 L640.64 375.67 L640.89 372.06 L641.14 368.27 L641.39 364.31 L641.64 360.17 L641.89 355.88 L642.14 351.43 L642.39 346.83 L642.64 342.09 L642.89 337.22 L643.14 332.22 L643.39 327.10 L643.64 321.88 L643.89 316.55 L644.14 311.13 L644.39 305.63 L644.64 300.05 L644.89 294.40 L645.14 288.70 L645.39 282.94 L645.64 277.15 L645.89 271.32 L646.14 265.48 L646.39 259.62 L646.64 253.76 L646.89 247.91 L647.14 242.07 L647.39 236.25 L647.64 230.47 L647.89 224.74 L648.14 219.05 L648.39 213.43 L648.64 207.88 L648.89 202.40 L649.14 197.02 L649.39 191.72 L649.64 186.54 L649.89 181.46 L650.14 176.51 L650.39 171.69 L650.64 167.00 L650.89 162.45 L651.14 158.06 L651.39 153.82 L651.64 149.75 L651.89 145.84 L652.14 142.12 L652.39 138.58 L652.64 135.22 L652.89 132.06 L653.14 129.10 L653.39 126.34 L653.64 123.79 L653.89 121.45 L654.14 119.33 L654.39 117.42 L654.64 115.74 L654.89 114.28 L655.14 113.05 L655.39 112.05 L655.64 111.28 L655.89 110.73 L656.14 110.43 L656.39 110.35 L656.64 110.51 L656.89 110.90 L657.14 111.53 L657.39 112.40 L657.64 113.50 L657.89 114.82 L658.14 116.38 L658.39 118.17 L658.64 120.17 L658.89 122.40 L659.14 124.85 L659.39 127.51 L659.64 130.37 L659.89 133.45 L660.14 136.72 L660.39 140.19 L660.64 143.84 L660.89 147.68 L661.14 151.70 L661.39 155.89 L661.64 160.24 L661.89 164.75 L662.14 169.41 L662.39 174.21 L662.64 179.15 L662.89 184.22 L663.14 189.41 L663.39 194.70 L663.64 200.11 L663.89 205.60 L664.14 211.19 L664.39 216.85 L664.64 222.58 L664.89 228.37 L665.14 234.21 L665.39 240.09 L665.64 246.00 L665.89 251.94 L666.14 257.89 L666.39 263.84 L666.64 269.79 L666.89 275.73 L667.14 281.64 L667.39 287.51 L667.64 293.35 L667.89 299.13 L668.14 304.85 L668.39 310.51 L668.64 316.08 L668.89 321.57 L669.14 326.96 L669.39 332.24 L669.64 337.42 L669.89 342.47 L670.14 347.39 L670.39 352.18 L670.64 356.82 L670.89 361.31 L671.14 365.65 L671.39 369.82 L671.64 373.81 L671.90 377.63 L672.15 381.26 L672.40 384.71 L672.65 387.95 L672.90 391.00 L673.15 393.85 L673.40 396.48 L673.65 398.90 L673.90 401.10 L674.15 403.08 L674.40 404.84 L674.65 406.37 L674.90 407.67 L675.15 408.74 L675.40 409.58 L675.65 410.18 L675.90 410.54 L676.15 410.68 L676.40 410.57 L676.65 410.23 L676.90 409.66 L677.15 408.86 L677.40 407.83 L677.65 406.57 L677.90 405.08 L678.15 403.37 L678.40 401.44 L678.65 399.28 L678.90 396.92 L679.15 394.34 L679.40 391.55 L679.65 388.56 L679.90 385.38 L680.15 382.00 L680.40 378.43 L680.65 374.68 L680.90 370.76 L681.15 366.66 L681.40 362.41 L681.65 358.00 L681.90 353.44 L682.15 348.73 L682.40 343.90 L682.65 338.94 L682.90 333.86 L683.15 328.67 L683.40 323.37 L683.65 317.99 L683.90 312.52 L684.15 306.97 L684.40 301.36 L684.65 295.69 L684.90 289.97 L685.15 284.22 L685.40 278.43 L685.65 272.62 L685.90 266.80 L686.15 260.97 L686.40 255.16 L686.65 249.36 L686.90 243.58 L687.15 237.84 L687.40 232.15 L687.65 226.51 L687.90 220.93 L688.15 215.42 L688.40 209.99 L688.65 204.66 L688.90 199.42 L689.15 194.28 L689.40 189.26 L689.65 184.36 L689.90 179.59 L690.15 174.96 L690.40 170.48 L690.65 166.14 L690.90 161.97 L691.15 157.96 L691.40 154.13 L691.65 150.47 L691.90 147.00 L692.15 143.72 L692.40 140.63 L692.65 137.75 L692.90 135.07 L693.15 132.60 L693.40 130.34 L693.65 128.30 L693.90 126.48 L694.15 124.88 L694.40 123.51 L694.65 122.36 L694.90 121.45 L695.15 120.77 L695.40 120.31 L695.65 120.10 L695.90 120.11 L696.15 120.33 L696.40 120.75 L696.65 121.38 L696.90 122.21 L697.15 123.25 L697.40 124.48 L697.65 125.92 L697.90 127.55 L698.15 129.37 L698.40 131.39 L698.65 133.59 L698.90 135.97 L699.15 138.54 L699.40 141.29 L699.65 144.20 L699.90 147.28 L700.15 150.53 L700.40 153.93 L700.65 157.49 L700.90 161.19 L701.15 165.03 L701.40 169.01 L701.65 173.11 L701.90 177.34 L702.15 181.68 L702.40 186.13 L702.40 430.50 Z" fill="#a0b4ff"/>
<g stroke="#262626" fill="none">
<line x1="49.3" y1="56.2" x2="49.3" y2="464.7" stroke-width="1.7"/>
<line x1="743.1" y1="56.2" x2="743.1" y2="464.7" stroke-width="1.7"/>
</g><g stroke="#666666" stroke-width="0.9" fill="none">
<line x1="42.3" y1="447.90" x2="48.6" y2="447.90"/>
<line x1="45.3" y1="426.75" x2="48.6" y2="426.75"/>
<line x1="42.3" y1="405.60" x2="48.6" y2="405.60"/>
<line x1="45.3" y1="384.45" x2="48.6" y2="384.45"/>
<line x1="42.3" y1="363.30" x2="48.6" y2="363.30"/>
<line x1="45.3" y1="342.15" x2="48.6" y2="342.15"/>
<line x1="42.3" y1="321.00" x2="48.6" y2="321.00"/>
<line x1="45.3" y1="299.85" x2="48.6" y2="299.85"/>
<line x1="42.3" y1="278.70" x2="48.6" y2="278.70"/>
<line x1="45.3" y1="257.55" x2="48.6" y2="257.55"/>
<line x1="42.3" y1="236.40" x2="48.6" y2="236.40"/>
<line x1="45.3" y1="215.25" x2="48.6" y2="215.25"/>
<line x1="42.3" y1="194.10" x2="48.6" y2="194.10"/>
<line x1="45.3" y1="172.95" x2="48.6" y2="172.95"/>
<line x1="42.3" y1="151.80" x2="48.6" y2="151.80"/>
<line x1="45.3" y1="130.65" x2="48.6" y2="130.65"/>
<line x1="42.3" y1="109.50" x2="48.6" y2="109.50"/>
<line x1="45.3" y1="88.35" x2="48.6" y2="88.35"/>
<line x1="42.3" y1="67.20" x2="48.6" y2="67.20"/>
<line x1="744" y1="457.17" x2="750" y2="457.17"/>
<line x1="744" y1="444.28" x2="747" y2="444.28"/>
<line x1="744" y1="431.39" x2="750" y2="431.39"/>
<line x1="744" y1="418.49" x2="747" y2="418.49"/>
<line x1="744" y1="405.60" x2="750" y2="405.60"/>
<line x1="744" y1="392.71" x2="747" y2="392.71"/>
<line x1="744" y1="379.81" x2="750" y2="379.81"/>
<line x1="744" y1="366.92" x2="747" y2="366.92"/>
<line x1="744" y1="354.03" x2="750" y2="354.03"/>
<line x1="744" y1="341.13" x2="747" y2="341.13"/>
<line x1="744" y1="328.24" x2="750" y2="328.24"/>
<line x1="744" y1="315.35" x2="747" y2="315.35"/>
<line x1="744" y1="302.46" x2="750" y2="302.46"/>
<line x1="744" y1="289.56" x2="747" y2="289.56"/>
<line x1="744" y1="276.67" x2="750" y2="276.67"/>
<line x1="744" y1="263.78" x2="747" y2="263.78"/>
<line x1="744" y1="250.88" x2="750" y2="250.88"/>
<line x1="744" y1="237.99" x2="747" y2="237.99"/>
<line x1="744" y1="225.10" x2="750" y2="225.10"/>
<line x1="744" y1="212.20" x2="747" y2="212.20"/>
<line x1="744" y1="199.31" x2="750" y2="199.31"/>
<line x1="744" y1="186.42" x2="747" y2="186.42"/>
<line x1="744" y1="173.53" x2="750" y2="173.53"/>
<line x1="744" y1="160.63" x2="747" y2="160.63"/>
<line x1="744" y1="147.74" x2="750" y2="147.74"/>
<line x1="744" y1="134.85" x2="747" y2="134.85"/>
<line x1="744" y1="121.95" x2="750" y2="121.95"/>
<line x1="744" y1="109.06" x2="747" y2="109.06"/>
<line x1="744" y1="96.17" x2="750" y2="96.17"/>
<line x1="744" y1="83.27" x2="747" y2="83.27"/>
<line x1="744" y1="70.38" x2="750" y2="70.38"/>
<line x1="744" y1="57.49" x2="747" y2="57.49"/>
</g>
<text class="ax" transform="translate(35.3 452.00) rotate(0.03)" text-anchor="end">–1 m</text>
<text class="ax" transform="translate(35.3 409.70) rotate(0.03)" text-anchor="end">0 m</text>
<text class="ax" transform="translate(35.3 367.40) rotate(0.03)" text-anchor="end">1 m</text>
<text class="ax" transform="translate(35.3 325.10) rotate(0.03)" text-anchor="end">2 m</text>
<text class="ax" transform="translate(35.3 282.80) rotate(0.03)" text-anchor="end">3 m</text>
<text class="ax" transform="translate(35.3 240.50) rotate(0.03)" text-anchor="end">4 m</text>
<text class="ax" transform="translate(35.3 198.20) rotate(0.03)" text-anchor="end">5 m</text>
<text class="ax" transform="translate(35.3 155.90) rotate(0.03)" text-anchor="end">6 m</text>
<text class="ax" transform="translate(35.3 113.60) rotate(0.03)" text-anchor="end">7 m</text>
<text class="ax" transform="translate(35.3 71.30) rotate(0.03)" text-anchor="end">8 m</text>
<text class="ax" transform="translate(780.7 461.27) rotate(0.03)" text-anchor="end">–4 ft</text>
<text class="ax" transform="translate(780.7 435.49) rotate(0.03)" text-anchor="end">–2 ft</text>
<text class="ax" transform="translate(780.7 409.70) rotate(0.03)" text-anchor="end">0 ft</text>
<text class="ax" transform="translate(780.7 383.91) rotate(0.03)" text-anchor="end">2 ft</text>
<text class="ax" transform="translate(780.7 358.13) rotate(0.03)" text-anchor="end">4 ft</text>
<text class="ax" transform="translate(780.7 332.34) rotate(0.03)" text-anchor="end">6 ft</text>
<text class="ax" transform="translate(780.7 306.56) rotate(0.03)" text-anchor="end">8 ft</text>
<text class="ax" transform="translate(780.7 280.77) rotate(0.03)" text-anchor="end">10 ft</text>
<text class="ax" transform="translate(780.7 254.98) rotate(0.03)" text-anchor="end">12 ft</text>
<text class="ax" transform="translate(780.7 229.20) rotate(0.03)" text-anchor="end">14 ft</text>
<text class="ax" transform="translate(780.7 203.41) rotate(0.03)" text-anchor="end">16 ft</text>
<text class="ax" transform="translate(780.7 177.63) rotate(0.03)" text-anchor="end">18 ft</text>
<text class="ax" transform="translate(780.7 151.84) rotate(0.03)" text-anchor="end">20 ft</text>
<text class="ax" transform="translate(780.7 126.05) rotate(0.03)" text-anchor="end">22 ft</text>
<text class="ax" transform="translate(780.7 100.27) rotate(0.03)" text-anchor="end">24 ft</text>
<text class="ax" transform="translate(780.7 74.48) rotate(0.03)" text-anchor="end">26 ft</text>
<text class="ttl" transform="translate(396.6 13.3) rotate(0.03)" text-anchor="middle" xml:space="preserve">Fistral–North: falling  ordinary tide at 3.6m (12.0ft)</text>
<text class="sub" transform="translate(396.9 27.8) rotate(0.03)" text-anchor="middle">Image captured 2 hours and 52 minutes after high water. Times are BST (UTC +1.0hrs)</text>
<text class="day" transform="translate(97.32 39.5) rotate(0.03)" text-anchor="middle">Mon</text>
<text class="day" transform="translate(97.32 51.4) rotate(0.03)" text-anchor="middle">25–Jul</text>
<text class="day" transform="translate(173.80 39.5) rotate(0.03)" text-anchor="middle">Tue</text>
<text class="day" transform="translate(173.80 51.4) rotate(0.03)" text-anchor="middle">26–Jul</text>
<text class="day" transform="translate(250.28 39.5) rotate(0.03)" text-anchor="middle">Wed</text>
<text class="day" transform="translate(250.28 51.4) rotate(0.03)" text-anchor="middle">27–Jul</text>
<text class="day" transform="translate(326.76 39.5) rotate(0.03)" text-anchor="middle">Thu</text>
<text class="day" transform="translate(326.76 51.4) rotate(0.03)" text-anchor="middle">28–Jul</text>
<text class="day" transform="translate(403.24 39.5) rotate(0.03)" text-anchor="middle">Fri</text>
<text class="day" transform="translate(403.24 51.4) rotate(0.03)" text-anchor="middle">29–Jul</text>
<text class="day" transform="translate(479.72 39.5) rotate(0.03)" text-anchor="middle">Sat</text>
<text class="day" transform="translate(479.72 51.4) rotate(0.03)" text-anchor="middle">30–Jul</text>
<text class="day" transform="translate(556.20 39.5) rotate(0.03)" text-anchor="middle">Sun</text>
<text class="day" transform="translate(556.20 51.4) rotate(0.03)" text-anchor="middle">31–Jul</text>
<text class="day" transform="translate(632.68 39.5) rotate(0.03)" text-anchor="middle">Mon</text>
<text class="day" transform="translate(632.68 51.4) rotate(0.03)" text-anchor="middle">01–Aug</text>
<text class="day" transform="translate(709.16 39.5) rotate(0.03)" text-anchor="middle">Tue</text>
<text class="day" transform="translate(709.16 51.4) rotate(0.03)" text-anchor="middle">02–Aug</text>
<circle cx="101.40" cy="209.75" r="1.7" fill="#000"/>
<text class="lb" transform="translate(101.10 188.45) rotate(0.03)" text-anchor="middle">1:13 pm</text>
<text class="lb" transform="translate(101.10 196.05) rotate(0.03)" text-anchor="middle">15.2 ft</text>
<text class="lb" transform="translate(101.10 206.05) rotate(0.03)" text-anchor="middle">4.63 m</text>
<circle cx="121.47" cy="313.81" r="1.7" fill="#000"/>
<text class="lb" transform="translate(121.17 323.71) rotate(0.03)" text-anchor="middle">2.17 m</text>
<text class="lb" transform="translate(121.17 334.31) rotate(0.03)" text-anchor="middle">7.1 ft</text>
<text class="lb" transform="translate(121.17 343.41) rotate(0.03)" text-anchor="middle">7:31 pm</text>
<circle cx="141.55" cy="209.75" r="1.7" fill="#000"/>
<text class="lb" transform="translate(141.25 187.45) rotate(0.03)" text-anchor="middle">1:49 am</text>
<text class="lb" transform="translate(141.25 196.05) rotate(0.03)" text-anchor="middle">15.2 ft</text>
<text class="lb" transform="translate(141.25 206.05) rotate(0.03)" text-anchor="middle">4.63 m</text>
<circle cx="161.73" cy="317.19" r="1.7" fill="#000"/>
<text class="lb" transform="translate(161.43 327.09) rotate(0.03)" text-anchor="middle">2.09 m</text>
<text class="lb" transform="translate(161.43 337.69) rotate(0.03)" text-anchor="middle">6.9 ft</text>
<text class="lb" transform="translate(161.43 345.79) rotate(0.03)" text-anchor="middle">8:09 am</text>
<circle cx="181.91" cy="205.52" r="1.7" fill="#000"/>
<text class="lb" transform="translate(181.61 184.22) rotate(0.03)" text-anchor="middle">2:29 pm</text>
<text class="lb" transform="translate(181.61 191.82) rotate(0.03)" text-anchor="middle">15.5 ft</text>
<text class="lb" transform="translate(181.61 201.82) rotate(0.03)" text-anchor="middle">4.73 m</text>
<circle cx="201.99" cy="319.73" r="1.7" fill="#000"/>
<text class="lb" transform="translate(201.69 329.63) rotate(0.03)" text-anchor="middle">2.03 m</text>
<text class="lb" transform="translate(201.69 340.23) rotate(0.03)" text-anchor="middle">6.7 ft</text>
<text class="lb" transform="translate(201.69 349.33) rotate(0.03)" text-anchor="middle">8:47 pm</text>
<circle cx="221.91" cy="202.56" r="1.7" fill="#000"/>
<text class="lb" transform="translate(221.61 180.26) rotate(0.03)" text-anchor="middle">3:02 am</text>
<text class="lb" transform="translate(221.61 188.86) rotate(0.03)" text-anchor="middle">15.7 ft</text>
<text class="lb" transform="translate(221.61 198.86) rotate(0.03)" text-anchor="middle">4.80 m</text>
<circle cx="241.88" cy="326.92" r="1.7" fill="#000"/>
<text class="lb" transform="translate(241.58 336.82) rotate(0.03)" text-anchor="middle">1.86 m</text>
<text class="lb" transform="translate(241.58 347.42) rotate(0.03)" text-anchor="middle">6.1 ft</text>
<text class="lb" transform="translate(241.58 355.52) rotate(0.03)" text-anchor="middle">9:18 am</text>
<circle cx="261.95" cy="192.83" r="1.7" fill="#000"/>
<text class="lb" transform="translate(261.65 171.53) rotate(0.03)" text-anchor="middle">3:36 pm</text>
<text class="lb" transform="translate(261.65 179.13) rotate(0.03)" text-anchor="middle">16.5 ft</text>
<text class="lb" transform="translate(261.65 189.13) rotate(0.03)" text-anchor="middle">5.03 m</text>
<circle cx="281.87" cy="333.69" r="1.7" fill="#000"/>
<text class="lb" transform="translate(281.57 343.59) rotate(0.03)" text-anchor="middle">1.70 m</text>
<text class="lb" transform="translate(281.57 354.19) rotate(0.03)" text-anchor="middle">5.6 ft</text>
<text class="lb" transform="translate(281.57 363.29) rotate(0.03)" text-anchor="middle">9:51 pm</text>
<circle cx="301.63" cy="188.18" r="1.7" fill="#000"/>
<text class="lb" transform="translate(301.33 165.88) rotate(0.03)" text-anchor="middle">4:03 am</text>
<text class="lb" transform="translate(301.33 174.48) rotate(0.03)" text-anchor="middle">16.9 ft</text>
<text class="lb" transform="translate(301.33 184.48) rotate(0.03)" text-anchor="middle">5.14 m</text>
<circle cx="321.38" cy="343.00" r="1.7" fill="#000"/>
<text class="lb" transform="translate(321.08 352.90) rotate(0.03)" text-anchor="middle">1.48 m</text>
<text class="lb" transform="translate(321.08 363.50) rotate(0.03)" text-anchor="middle">4.9 ft</text>
<text class="lb" transform="translate(321.08 371.60) rotate(0.03)" text-anchor="middle">10:15 am</text>
<circle cx="341.25" cy="174.64" r="1.7" fill="#000"/>
<text class="lb" transform="translate(340.95 153.34) rotate(0.03)" text-anchor="middle">4:29 pm</text>
<text class="lb" transform="translate(340.95 160.94) rotate(0.03)" text-anchor="middle">17.9 ft</text>
<text class="lb" transform="translate(340.95 170.94) rotate(0.03)" text-anchor="middle">5.46 m</text>
<circle cx="361.11" cy="352.30" r="1.7" fill="#000"/>
<text class="lb" transform="translate(360.81 362.20) rotate(0.03)" text-anchor="middle">1.26 m</text>
<text class="lb" transform="translate(360.81 372.80) rotate(0.03)" text-anchor="middle">4.1 ft</text>
<text class="lb" transform="translate(360.81 381.90) rotate(0.03)" text-anchor="middle">10:43 pm</text>
<circle cx="380.76" cy="170.41" r="1.7" fill="#000"/>
<text class="lb" transform="translate(380.46 148.11) rotate(0.03)" text-anchor="middle">4:53 am</text>
<text class="lb" transform="translate(380.46 156.71) rotate(0.03)" text-anchor="middle">18.2 ft</text>
<text class="lb" transform="translate(380.46 166.71) rotate(0.03)" text-anchor="middle">5.56 m</text>
<circle cx="400.41" cy="361.61" r="1.7" fill="#000"/>
<text class="lb" transform="translate(400.11 371.51) rotate(0.03)" text-anchor="middle">1.04 m</text>
<text class="lb" transform="translate(400.11 382.11) rotate(0.03)" text-anchor="middle">3.4 ft</text>
<text class="lb" transform="translate(400.11 390.21) rotate(0.03)" text-anchor="middle">11:03 am</text>
<circle cx="420.22" cy="154.34" r="1.7" fill="#000"/>
<text class="lb" transform="translate(419.92 133.04) rotate(0.03)" text-anchor="middle">5:16 pm</text>
<text class="lb" transform="translate(419.92 140.64) rotate(0.03)" text-anchor="middle">19.5 ft</text>
<text class="lb" transform="translate(419.92 150.64) rotate(0.03)" text-anchor="middle">5.94 m</text>
<circle cx="440.03" cy="371.76" r="1.7" fill="#000"/>
<text class="lb" transform="translate(439.73 381.66) rotate(0.03)" text-anchor="middle">0.80 m</text>
<text class="lb" transform="translate(439.73 392.26) rotate(0.03)" text-anchor="middle">2.6 ft</text>
<text class="lb" transform="translate(439.73 401.36) rotate(0.03)" text-anchor="middle">11:29 pm</text>
<circle cx="459.63" cy="152.65" r="1.7" fill="#000"/>
<text class="lb" transform="translate(459.33 130.35) rotate(0.03)" text-anchor="middle">5:38 am</text>
<text class="lb" transform="translate(459.33 138.95) rotate(0.03)" text-anchor="middle">19.6 ft</text>
<text class="lb" transform="translate(459.33 148.95) rotate(0.03)" text-anchor="middle">5.98 m</text>
<circle cx="479.18" cy="379.37" r="1.7" fill="#000"/>
<text class="lb" transform="translate(478.88 389.27) rotate(0.03)" text-anchor="middle">0.62 m</text>
<text class="lb" transform="translate(478.88 399.87) rotate(0.03)" text-anchor="middle">2.0 ft</text>
<text class="lb" transform="translate(478.88 407.97) rotate(0.03)" text-anchor="middle">11:46 am</text>
<circle cx="498.93" cy="135.73" r="1.7" fill="#000"/>
<text class="lb" transform="translate(498.63 114.43) rotate(0.03)" text-anchor="middle">5:58 pm</text>
<text class="lb" transform="translate(498.63 122.03) rotate(0.03)" text-anchor="middle">20.9 ft</text>
<text class="lb" transform="translate(498.63 132.03) rotate(0.03)" text-anchor="middle">6.38 m</text>
<circle cx="518.74" cy="389.53" r="1.7" fill="#000"/>
<text class="lb" transform="translate(518.44 399.43) rotate(0.03)" text-anchor="middle">0.38 m</text>
<text class="lb" transform="translate(518.44 410.03) rotate(0.03)" text-anchor="middle">1.2 ft</text>
<text class="lb" transform="translate(518.44 418.13) rotate(0.03)" text-anchor="middle">12:11 am</text>
<circle cx="538.34" cy="137.00" r="1.7" fill="#000"/>
<text class="lb" transform="translate(538.04 114.70) rotate(0.03)" text-anchor="middle">6:20 am</text>
<text class="lb" transform="translate(538.04 123.30) rotate(0.03)" text-anchor="middle">20.8 ft</text>
<text class="lb" transform="translate(538.04 133.30) rotate(0.03)" text-anchor="middle">6.35 m</text>
<circle cx="557.83" cy="394.60" r="1.7" fill="#000"/>
<text class="lb" transform="translate(557.53 404.50) rotate(0.03)" text-anchor="middle">0.26 m</text>
<text class="lb" transform="translate(557.53 415.10) rotate(0.03)" text-anchor="middle">0.9 ft</text>
<text class="lb" transform="translate(557.53 424.20) rotate(0.03)" text-anchor="middle">12:27 pm</text>
<circle cx="577.59" cy="120.08" r="1.7" fill="#000"/>
<text class="lb" transform="translate(577.29 98.78) rotate(0.03)" text-anchor="middle">6:39 pm</text>
<text class="lb" transform="translate(577.29 106.38) rotate(0.03)" text-anchor="middle">22.1 ft</text>
<text class="lb" transform="translate(577.29 116.38) rotate(0.03)" text-anchor="middle">6.75 m</text>
<circle cx="597.40" cy="403.49" r="1.7" fill="#000"/>
<text class="lb" transform="translate(597.10 413.38) rotate(0.03)" text-anchor="middle">0.05 m</text>
<text class="lb" transform="translate(597.10 423.99) rotate(0.03)" text-anchor="middle">0.2 ft</text>
<text class="lb" transform="translate(597.10 432.09) rotate(0.03)" text-anchor="middle">12:52 am</text>
<circle cx="617.00" cy="125.57" r="1.7" fill="#000"/>
<text class="lb" transform="translate(616.70 103.27) rotate(0.03)" text-anchor="middle">7:01 am</text>
<text class="lb" transform="translate(616.70 111.87) rotate(0.03)" text-anchor="middle">21.7 ft</text>
<text class="lb" transform="translate(616.70 121.87) rotate(0.03)" text-anchor="middle">6.62 m</text>
<circle cx="636.49" cy="405.18" r="1.7" fill="#000"/>
<text class="lb" transform="translate(636.19 415.08) rotate(0.03)" text-anchor="middle">0.01 m</text>
<text class="lb" transform="translate(636.19 425.68) rotate(0.03)" text-anchor="middle">0.0 ft</text>
<text class="lb" transform="translate(636.19 434.78) rotate(0.03)" text-anchor="middle">1:08 pm</text>
<circle cx="656.25" cy="110.35" r="1.7" fill="#000"/>
<text class="lb" transform="translate(655.95 89.05) rotate(0.03)" text-anchor="middle">7:20 pm</text>
<text class="lb" transform="translate(655.95 96.65) rotate(0.03)" text-anchor="middle">22.9 ft</text>
<text class="lb" transform="translate(655.95 106.65) rotate(0.03)" text-anchor="middle">6.98 m</text>
<circle cx="676.06" cy="410.68" r="1.7" fill="#000"/>
<text class="lb" transform="translate(675.76 420.58) rotate(0.03)" text-anchor="middle">–0.12 m</text>
<text class="lb" transform="translate(675.76 431.18) rotate(0.03)" text-anchor="middle">–0.4 ft</text>
<text class="lb" transform="translate(675.76 439.28) rotate(0.03)" text-anchor="middle">1:33 am</text>
<circle cx="695.66" cy="120.08" r="1.7" fill="#000"/>
<text class="lb" transform="translate(695.36 97.78) rotate(0.03)" text-anchor="middle">7:42 am</text>
<text class="lb" transform="translate(695.36 106.38) rotate(0.03)" text-anchor="middle">22.1 ft</text>
<text class="lb" transform="translate(695.36 116.38) rotate(0.03)" text-anchor="middle">6.75 m</text>
<path d="M385.20 250.50 L394.20 250.50 L389.70 258.20 Z" fill="#e8e23e" stroke="#6e5210" stroke-width="0.5" stroke-linejoin="miter"/>
<text class="row" transform="translate(45.6 478.50) rotate(0.03)" text-anchor="end">Sunrise</text>
<text class="row" transform="translate(746.6 478.50) rotate(0.03)">Sunrise</text>
<polygon points="153.26,467.50 154.79,472.70 160.20,472.54 155.73,475.60 157.55,480.71 153.26,477.40 148.97,480.71 150.79,475.60 146.32,472.54 151.73,472.70" fill="#7d6622"/>
<polygon points="153.26,470.10 155.50,471.72 157.73,473.35 156.88,475.98 156.02,478.60 153.26,478.60 150.50,478.60 149.65,475.98 148.79,473.35 151.03,471.72" fill="#bbb83e" stroke="#5e4008" stroke-width="0.95" stroke-linejoin="round"/>
<text class="ev" transform="translate(160.16 478.00) rotate(0.03)">5:38am</text>
<polygon points="229.79,467.50 231.32,472.70 236.74,472.54 232.27,475.60 234.09,480.71 229.79,477.40 225.50,480.71 227.32,475.60 222.85,472.54 228.27,472.70" fill="#7d6622"/>
<polygon points="229.79,470.10 232.03,471.72 234.26,473.35 233.41,475.98 232.56,478.60 229.79,478.60 227.03,478.60 226.18,475.98 225.32,473.35 227.56,471.72" fill="#bbb83e" stroke="#5e4008" stroke-width="0.95" stroke-linejoin="round"/>
<text class="ev" transform="translate(236.69 478.00) rotate(0.03)">5:39am</text>
<polygon points="306.38,467.50 307.91,472.70 313.32,472.54 308.85,475.60 310.67,480.71 306.38,477.40 302.09,480.71 303.91,475.60 299.44,472.54 304.85,472.70" fill="#7d6622"/>
<polygon points="306.38,470.10 308.62,471.72 310.85,473.35 310.00,475.98 309.14,478.60 306.38,478.60 303.62,478.60 302.76,475.98 301.91,473.35 304.15,471.72" fill="#bbb83e" stroke="#5e4008" stroke-width="0.95" stroke-linejoin="round"/>
<text class="ev" transform="translate(313.28 478.00) rotate(0.03)">5:41am</text>
<polygon points="382.91,467.50 384.44,472.70 389.86,472.54 385.39,475.60 387.20,480.71 382.91,477.40 378.62,480.71 380.44,475.60 375.97,472.54 381.39,472.70" fill="#7d6622"/>
<polygon points="382.91,470.10 385.15,471.72 387.38,473.35 386.53,475.98 385.68,478.60 382.91,478.60 380.15,478.60 379.30,475.98 378.44,473.35 380.68,471.72" fill="#bbb83e" stroke="#5e4008" stroke-width="0.95" stroke-linejoin="round"/>
<text class="ev" transform="translate(389.81 478.00) rotate(0.03)">5:42am</text>
<polygon points="459.50,467.50 461.03,472.70 466.44,472.54 461.97,475.60 463.79,480.71 459.50,477.40 455.21,480.71 457.03,475.60 452.56,472.54 457.97,472.70" fill="#7d6622"/>
<polygon points="459.50,470.10 461.74,471.72 463.97,473.35 463.12,475.98 462.26,478.60 459.50,478.60 456.74,478.60 455.88,475.98 455.03,473.35 457.27,471.72" fill="#bbb83e" stroke="#5e4008" stroke-width="0.95" stroke-linejoin="round"/>
<text class="ev" transform="translate(466.40 478.00) rotate(0.03)">5:44am</text>
<polygon points="536.03,467.50 537.56,472.70 542.98,472.54 538.51,475.60 540.32,480.71 536.03,477.40 531.74,480.71 533.56,475.60 529.09,472.54 534.51,472.70" fill="#7d6622"/>
<polygon points="536.03,470.10 538.27,471.72 540.50,473.35 539.65,475.98 538.80,478.60 536.03,478.60 533.27,478.60 532.42,475.98 531.56,473.35 533.80,471.72" fill="#bbb83e" stroke="#5e4008" stroke-width="0.95" stroke-linejoin="round"/>
<text class="ev" transform="translate(542.93 478.00) rotate(0.03)">5:45am</text>
<polygon points="612.57,467.50 614.09,472.70 619.51,472.54 615.04,475.60 616.86,480.71 612.57,477.40 608.28,480.71 610.09,475.60 605.62,472.54 611.04,472.70" fill="#7d6622"/>
<polygon points="612.57,470.10 614.80,471.72 617.04,473.35 616.18,475.98 615.33,478.60 612.57,478.60 609.80,478.60 608.95,475.98 608.10,473.35 610.33,471.72" fill="#bbb83e" stroke="#5e4008" stroke-width="0.95" stroke-linejoin="round"/>
<text class="ev" transform="translate(619.47 478.00) rotate(0.03)">5:46am</text>
<polygon points="689.15,467.50 690.68,472.70 696.10,472.54 691.63,475.60 693.44,480.71 689.15,477.40 684.86,480.71 686.68,475.60 682.21,472.54 687.62,472.70" fill="#7d6622"/>
<polygon points="689.15,470.10 691.39,471.72 693.62,473.35 692.77,475.98 691.92,478.60 689.15,478.60 686.39,478.60 685.54,475.98 684.68,473.35 686.92,471.72" fill="#bbb83e" stroke="#5e4008" stroke-width="0.95" stroke-linejoin="round"/>
<text class="ev" transform="translate(696.05 478.00) rotate(0.03)">5:48am</text>
<text class="row" transform="translate(45.6 492.10) rotate(0.03)" text-anchor="end">Sunset</text>
<text class="row" transform="translate(746.6 492.10) rotate(0.03)">Sunset</text>
<polygon points="126.55,481.00 128.07,486.20 133.49,486.04 129.02,489.10 130.84,494.21 126.55,490.90 122.26,494.21 124.07,489.10 119.60,486.04 125.02,486.20" fill="#7d6622"/>
<polygon points="126.55,483.60 128.78,485.22 131.02,486.85 130.16,489.48 129.31,492.10 126.55,492.10 123.78,492.10 122.93,489.48 122.08,486.85 124.31,485.22" fill="#db3a2e" stroke="#5e4008" stroke-width="0.95" stroke-linejoin="round"/>
<text class="ev" transform="translate(133.45 492.80) rotate(0.03)">9:15pm</text>
<polygon points="202.97,481.00 204.50,486.20 209.92,486.04 205.45,489.10 207.26,494.21 202.97,490.90 198.68,494.21 200.50,489.10 196.03,486.04 201.45,486.20" fill="#7d6622"/>
<polygon points="202.97,483.60 205.21,485.22 207.44,486.85 206.59,489.48 205.74,492.10 202.97,492.10 200.21,492.10 199.36,489.48 198.50,486.85 200.74,485.22" fill="#db3a2e" stroke="#5e4008" stroke-width="0.95" stroke-linejoin="round"/>
<text class="ev" transform="translate(209.87 492.80) rotate(0.03)">9:14pm</text>
<polygon points="279.40,481.00 280.93,486.20 286.34,486.04 281.87,489.10 283.69,494.21 279.40,490.90 275.11,494.21 276.93,489.10 272.46,486.04 277.87,486.20" fill="#7d6622"/>
<polygon points="279.40,483.60 281.64,485.22 283.87,486.85 283.02,489.48 282.16,492.10 279.40,492.10 276.64,492.10 275.78,489.48 274.93,486.85 277.17,485.22" fill="#db3a2e" stroke="#5e4008" stroke-width="0.95" stroke-linejoin="round"/>
<text class="ev" transform="translate(286.30 492.80) rotate(0.03)">9:13pm</text>
<polygon points="355.77,481.00 357.30,486.20 362.72,486.04 358.25,489.10 360.07,494.21 355.77,490.90 351.48,494.21 353.30,489.10 348.83,486.04 354.25,486.20" fill="#7d6622"/>
<polygon points="355.77,483.60 358.01,485.22 360.24,486.85 359.39,489.48 358.54,492.10 355.77,492.10 353.01,492.10 352.16,489.48 351.30,486.85 353.54,485.22" fill="#db3a2e" stroke="#5e4008" stroke-width="0.95" stroke-linejoin="round"/>
<text class="ev" transform="translate(362.67 492.80) rotate(0.03)">9:11pm</text>
<polygon points="432.20,481.00 433.73,486.20 439.14,486.04 434.67,489.10 436.49,494.21 432.20,490.90 427.91,494.21 429.73,489.10 425.26,486.04 430.67,486.20" fill="#7d6622"/>
<polygon points="432.20,483.60 434.44,485.22 436.67,486.85 435.82,489.48 434.96,492.10 432.20,492.10 429.44,492.10 428.58,489.48 427.73,486.85 429.97,485.22" fill="#db3a2e" stroke="#5e4008" stroke-width="0.95" stroke-linejoin="round"/>
<text class="ev" transform="translate(439.10 492.80) rotate(0.03)">9:10pm</text>
<polygon points="508.57,481.00 510.10,486.20 515.52,486.04 511.05,489.10 512.87,494.21 508.57,490.90 504.28,494.21 506.10,489.10 501.63,486.04 507.05,486.20" fill="#7d6622"/>
<polygon points="508.57,483.60 510.81,485.22 513.04,486.85 512.19,489.48 511.34,492.10 508.57,492.10 505.81,492.10 504.96,489.48 504.10,486.85 506.34,485.22" fill="#db3a2e" stroke="#5e4008" stroke-width="0.95" stroke-linejoin="round"/>
<text class="ev" transform="translate(515.47 492.80) rotate(0.03)">9:08pm</text>
<polygon points="585.00,481.00 586.53,486.20 591.94,486.04 587.47,489.10 589.29,494.21 585.00,490.90 580.71,494.21 582.53,489.10 578.06,486.04 583.47,486.20" fill="#7d6622"/>
<polygon points="585.00,483.60 587.24,485.22 589.47,486.85 588.62,489.48 587.76,492.10 585.00,492.10 582.24,492.10 581.39,489.48 580.53,486.85 582.77,485.22" fill="#db3a2e" stroke="#5e4008" stroke-width="0.95" stroke-linejoin="round"/>
<text class="ev" transform="translate(591.90 492.80) rotate(0.03)">9:07pm</text>
<polygon points="661.38,481.00 662.90,486.20 668.32,486.04 663.85,489.10 665.67,494.21 661.38,490.90 657.08,494.21 658.90,489.10 654.43,486.04 659.85,486.20" fill="#7d6622"/>
<polygon points="661.38,483.60 663.61,485.22 665.85,486.85 664.99,489.48 664.14,492.10 661.38,492.10 658.61,492.10 657.76,489.48 656.91,486.85 659.14,485.22" fill="#db3a2e" stroke="#5e4008" stroke-width="0.95" stroke-linejoin="round"/>
<text class="ev" transform="translate(668.28 492.80) rotate(0.03)">9:05pm</text>
<text class="row" transform="translate(45.6 505.70) rotate(0.03)" text-anchor="end">Moonrise</text>
<text class="row" transform="translate(746.6 505.70) rotate(0.03)">Moonrise</text>
<circle cx="139.13" cy="501.90" r="5.15" fill="#ffffcc" stroke="#777777" stroke-width="0.9"/>
<text class="ev" transform="translate(146.03 505.80) rotate(0.03)">1:12am</text>
<circle cx="218.16" cy="501.90" r="5.15" fill="#ffffcc" stroke="#777777" stroke-width="0.9"/>
<text class="ev" transform="translate(225.06 505.80) rotate(0.03)">2:00am</text>
<circle cx="297.72" cy="501.90" r="5.15" fill="#ffffcc" stroke="#777777" stroke-width="0.9"/>
<text class="ev" transform="translate(304.62 505.80) rotate(0.03)">2:58am</text>
<circle cx="377.87" cy="501.90" r="5.15" fill="#ffffcc" stroke="#777777" stroke-width="0.9"/>
<text class="ev" transform="translate(384.77 505.80) rotate(0.03)">4:07am</text>
<circle cx="458.38" cy="501.90" r="5.15" fill="#ffffcc" stroke="#777777" stroke-width="0.9"/>
<text class="ev" transform="translate(465.28 505.80) rotate(0.03)">5:23am</text>
<circle cx="539.11" cy="501.90" r="5.15" fill="#ffffcc" stroke="#777777" stroke-width="0.9"/>
<text class="ev" transform="translate(546.01 505.80) rotate(0.03)">6:43am</text>
<circle cx="619.90" cy="501.90" r="5.15" fill="#ffffcc" stroke="#777777" stroke-width="0.9"/>
<text class="ev" transform="translate(626.80 505.80) rotate(0.03)">8:04am</text>
<text class="row" transform="translate(45.6 519.20) rotate(0.03)" text-anchor="end">Moonset</text>
<text class="row" transform="translate(746.6 519.20) rotate(0.03)">Moonset</text>
<circle cx="112.63" cy="515.70" r="5.15" fill="#c8c8b4" stroke="#777777" stroke-width="0.9"/>
<text class="ev" transform="translate(119.53 519.80) rotate(0.03)">4:53pm</text>
<circle cx="192.30" cy="515.70" r="5.15" fill="#c8c8b4" stroke="#777777" stroke-width="0.9"/>
<text class="ev" transform="translate(199.20 519.80) rotate(0.03)">5:53pm</text>
<circle cx="271.59" cy="515.70" r="5.15" fill="#c8c8b4" stroke="#777777" stroke-width="0.9"/>
<text class="ev" transform="translate(278.49 519.80) rotate(0.03)">6:46pm</text>
<circle cx="350.46" cy="515.70" r="5.15" fill="#c8c8b4" stroke="#777777" stroke-width="0.9"/>
<text class="ev" transform="translate(357.36 519.80) rotate(0.03)">7:31pm</text>
<circle cx="428.91" cy="515.70" r="5.15" fill="#c8c8b4" stroke="#777777" stroke-width="0.9"/>
<text class="ev" transform="translate(435.81 519.80) rotate(0.03)">8:08pm</text>
<circle cx="507.03" cy="515.70" r="5.15" fill="#c8c8b4" stroke="#777777" stroke-width="0.9"/>
<text class="ev" transform="translate(513.93 519.80) rotate(0.03)">8:39pm</text>
<circle cx="584.90" cy="515.70" r="5.15" fill="#c8c8b4" stroke="#777777" stroke-width="0.9"/>
<text class="ev" transform="translate(591.80 519.80) rotate(0.03)">9:05pm</text>
<circle cx="662.60" cy="515.70" r="5.15" fill="#c8c8b4" stroke="#777777" stroke-width="0.9"/>
<text class="ev" transform="translate(669.50 519.80) rotate(0.03)">9:28pm</text>
<text class="ev" transform="translate(497.7 532.6) rotate(0.03)" text-anchor="middle">New Moon | 7:39pm</text>
</svg></body></html>
